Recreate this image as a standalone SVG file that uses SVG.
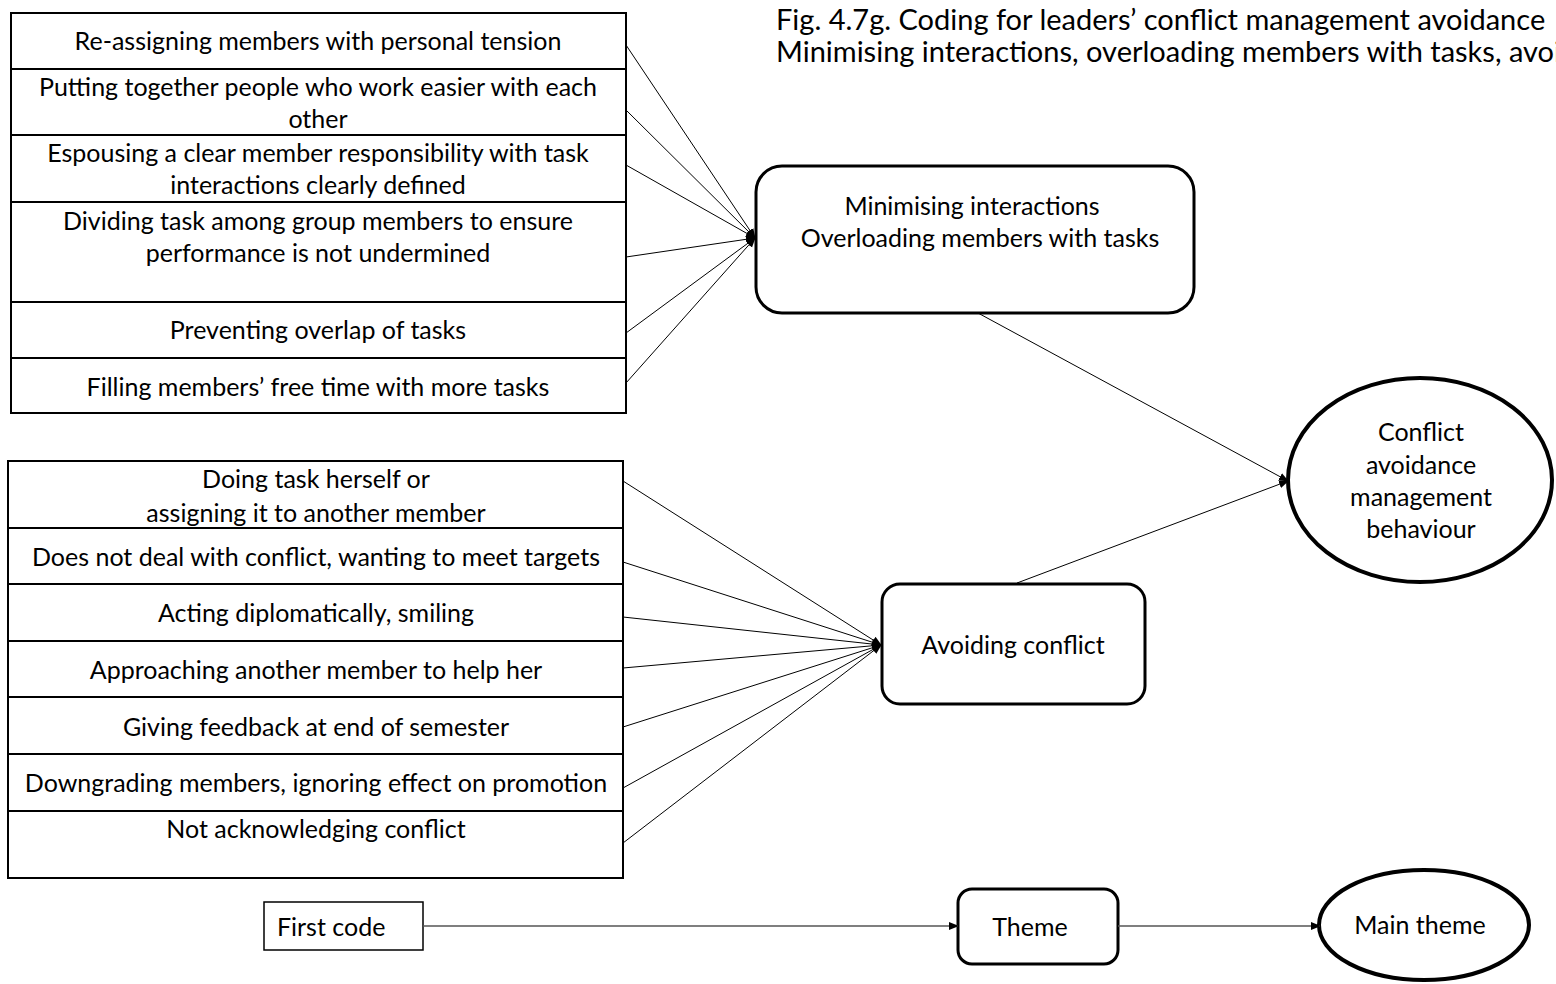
<svg xmlns="http://www.w3.org/2000/svg" width="1556" height="984" viewBox="0 0 1556 984">
  <style>
    text { font-family: Lato, "Open Sans", "Liberation Sans", sans-serif; font-size: 25px; fill: #000; }
    .c { text-anchor: middle; }
    .title { font-size: 29px; }
    .grid { fill: #fff; stroke: #000; stroke-width: 2; }
    .sep { stroke: #000; stroke-width: 2; }
    .round { fill: #fff; stroke: #000; stroke-width: 3; }
    .oval { fill: #fff; stroke: #000; stroke-width: 4; }
    .plain { fill: #fff; stroke: #000; stroke-width: 1.5; }
    .link { stroke: #000; stroke-width: 1; fill: none; marker-end: url(#head); }
    .key { stroke: #555; stroke-width: 1.5; fill: none; marker-end: url(#head); }
  </style>
  <defs>
    <marker id="head" markerUnits="userSpaceOnUse" markerWidth="10" markerHeight="10" viewBox="0 0 10 10" refX="9" refY="5" orient="auto">
      <path d="M0,1 L10,5 L0,9 Z" fill="#000"/>
    </marker>
  </defs>
  <rect width="1556" height="984" fill="#fff"/>

  <!-- caption -->
  <g id="caption">
    <text class="title" x="776" y="30">Fig. 4.7g. Coding for leaders’ conflict management avoidance</text>
    <text class="title" x="776" y="62">Minimising interactions, overloading members with tasks, avoiding conflict</text>
  </g>

  <!-- first codes: minimising interactions -->
  <g id="codes-minimising">
    <rect class="grid" x="11" y="13" width="615" height="400"/>
    <line class="sep" x1="11" y1="69" x2="626" y2="69"/>
    <line class="sep" x1="11" y1="135" x2="626" y2="135"/>
    <line class="sep" x1="11" y1="202" x2="626" y2="202"/>
    <line class="sep" x1="11" y1="302" x2="626" y2="302"/>
    <line class="sep" x1="11" y1="358" x2="626" y2="358"/>
    <text class="c" x="318" y="50">Re-assigning members with personal tension</text>
    <text class="c" x="318" y="96">Putting together people who work easier with each</text>
    <text class="c" x="318" y="128">other</text>
    <text class="c" x="318" y="162">Espousing a clear member responsibility with task</text>
    <text class="c" x="318" y="194">interactions clearly defined</text>
    <text class="c" x="318" y="230">Dividing task among group members to ensure</text>
    <text class="c" x="318" y="262">performance is not undermined</text>
    <text class="c" x="318" y="339">Preventing overlap of tasks</text>
    <text class="c" x="318" y="396">Filling members’ free time with more tasks</text>
  </g>

  <!-- first codes: avoiding conflict -->
  <g id="codes-avoiding">
    <rect class="grid" x="8" y="461" width="615" height="417"/>
    <line class="sep" x1="8" y1="528" x2="623" y2="528"/>
    <line class="sep" x1="8" y1="584" x2="623" y2="584"/>
    <line class="sep" x1="8" y1="641" x2="623" y2="641"/>
    <line class="sep" x1="8" y1="697" x2="623" y2="697"/>
    <line class="sep" x1="8" y1="754" x2="623" y2="754"/>
    <line class="sep" x1="8" y1="811" x2="623" y2="811"/>
    <text class="c" x="316" y="488">Doing task herself or</text>
    <text class="c" x="316" y="522">assigning it to another member</text>
    <text class="c" x="316" y="566">Does not deal with conflict, wanting to meet targets</text>
    <text class="c" x="316" y="622">Acting diplomatically, smiling</text>
    <text class="c" x="316" y="679">Approaching another member to help her</text>
    <text class="c" x="316" y="736">Giving feedback at end of semester</text>
    <text class="c" x="316" y="792">Downgrading members, ignoring effect on promotion</text>
    <text class="c" x="316" y="838">Not acknowledging conflict</text>
  </g>

  <!-- themes -->
  <g id="theme-minimising">
    <rect class="round" x="756" y="166" width="438" height="147" rx="26" ry="26"/>
    <text class="c" x="972" y="215">Minimising interactions</text>
    <text class="c" x="980" y="247">Overloading members with tasks</text>
  </g>
  <g id="theme-avoiding">
    <rect class="round" x="882" y="584" width="263" height="120" rx="18" ry="18"/>
    <text class="c" x="1013" y="654">Avoiding conflict</text>
  </g>

  <!-- main theme -->
  <g id="main-theme">
    <ellipse class="oval" cx="1420" cy="480" rx="132" ry="102"/>
    <text class="c" x="1421" y="441">Conflict</text>
    <text class="c" x="1421" y="474">avoidance</text>
    <text class="c" x="1421" y="506">management</text>
    <text class="c" x="1421" y="538">behaviour</text>
  </g>

  <!-- key -->
  <g id="key-first-code">
    <rect class="plain" x="264" y="902" width="159" height="48"/>
    <text x="277" y="936">First code</text>
  </g>
  <g id="key-theme">
    <rect class="round" x="958" y="889" width="160" height="75" rx="14" ry="14"/>
    <text class="c" x="1030" y="936">Theme</text>
  </g>
  <g id="key-main-theme">
    <ellipse class="oval" cx="1424" cy="925" rx="105" ry="55"/>
    <text class="c" x="1420" y="934">Main theme</text>
  </g>

  <!-- connectors -->
  <g id="connectors">
    <line class="link" x1="626" y1="45" x2="755" y2="238"/>
    <line class="link" x1="626" y1="110" x2="755" y2="238"/>
    <line class="link" x1="626" y1="165" x2="755" y2="238"/>
    <line class="link" x1="626" y1="257" x2="755" y2="238"/>
    <line class="link" x1="626" y1="333" x2="755" y2="238"/>
    <line class="link" x1="626" y1="383" x2="755" y2="238"/>

    <line class="link" x1="623" y1="481" x2="881" y2="645"/>
    <line class="link" x1="623" y1="562" x2="881" y2="645"/>
    <line class="link" x1="623" y1="617" x2="881" y2="645"/>
    <line class="link" x1="623" y1="668" x2="881" y2="645"/>
    <line class="link" x1="623" y1="727" x2="881" y2="645"/>
    <line class="link" x1="623" y1="788" x2="881" y2="645"/>
    <line class="link" x1="623" y1="843" x2="881" y2="645"/>

    <line class="link" x1="978" y1="313" x2="1288" y2="481"/>
    <line class="link" x1="1017" y1="583" x2="1288" y2="481"/>

    <line class="key" x1="423" y1="926" x2="958" y2="926"/>
    <line class="key" x1="1118" y1="926" x2="1320" y2="926"/>
  </g>
</svg>
